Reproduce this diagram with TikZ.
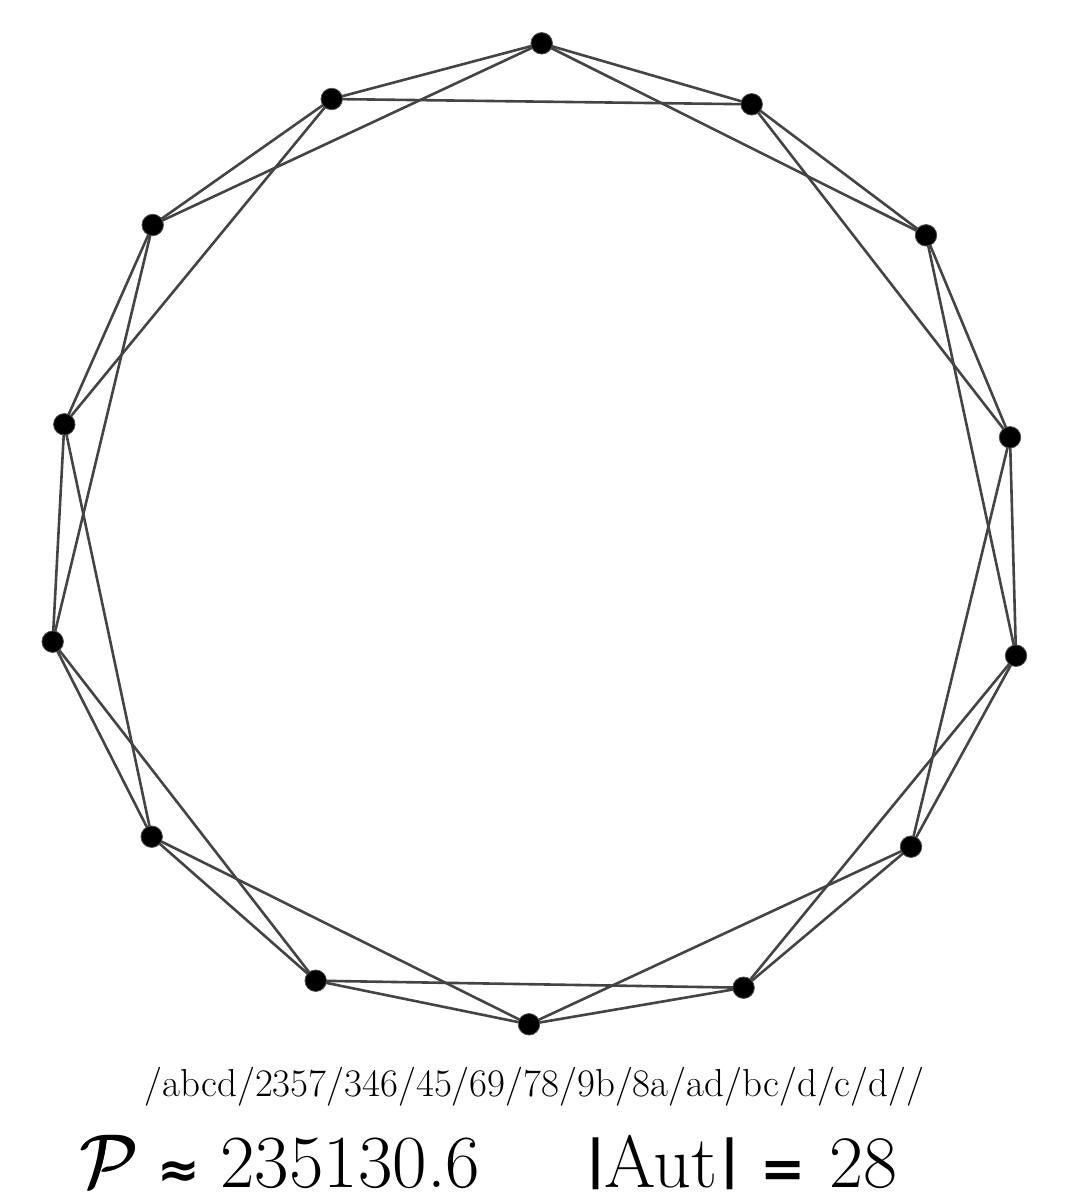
\RequirePackage{fix-cm}
\documentclass[tikz,border=0pt]{standalone}
\usepackage{fontspec}
\usepackage{graphicx}
\newfontfamily\dvb{DejaVu Sans Bold}
\usetikzlibrary{backgrounds}
\definecolor{edgecol}{RGB}{68,68,68}
\definecolor{rimcol}{RGB}{80,80,80}
\newcommand{\heavyP}{\makebox[0pt][l]{$\mathcal{P}$}\hspace{1.3pt}\makebox[0pt][l]{$\mathcal{P}$}\raisebox{0.6pt}{$\mathcal{P}$}}
\tikzset{
  vtx/.style={circle, fill=black, draw=rimcol, line width=0.8pt, minimum size=21.5pt, inner sep=0pt},
  edge/.style={draw=edgecol, line width=2.6pt},
  txt/.style={inner sep=0pt, text=black}
}
\begin{document}
\begin{tikzpicture}[x=1pt,y=-1pt]
\useasboundingbox (0,0) rectangle (1067,1200);
\node[vtx] (v1) at (541.7,43.3) {};
\node[vtx] (v2) at (751.7,104.3) {};
\node[vtx] (v3) at (926,235.3) {};
\node[vtx] (v4) at (1010,437.3) {};
\node[vtx] (v5) at (1016,655.7) {};
\node[vtx] (v6) at (911,846.7) {};
\node[vtx] (v7) at (743.6,987.7) {};
\node[vtx] (v8) at (529,1024.3) {};
\node[vtx] (v9) at (315.7,980.7) {};
\node[vtx] (v10) at (151.7,836.7) {};
\node[vtx] (v11) at (52.7,641.7) {};
\node[vtx] (v12) at (64.3,424.3) {};
\node[vtx] (v13) at (152.7,225) {};
\node[vtx] (v14) at (331.7,99) {};
\begin{scope}[on background layer]
\foreach \a/\b in {1/2,2/3,3/4,4/5,5/6,6/7,7/8,8/9,9/10,10/11,11/12,12/13,13/14,14/1,
                   1/3,2/4,3/5,4/6,5/7,6/8,7/9,8/10,9/11,10/12,11/13,12/14,13/1,14/2}
  \draw[edge] (v\a.center) -- (v\b.center);
\end{scope}
\node[txt, anchor=base, font=\fontsize{39}{45}\selectfont] (code) at (534.5,1096.7)
  {/abcd/2357/346/45/69/78/9b/8a/ad/bc/d/c/d//};
\node[txt, anchor=base west, font=\fontsize{75}{84}\selectfont] (perm) at (79,1187)
  {\makebox[78.7pt][l]{\heavyP}\makebox[62.6pt][l]{\fontsize{51}{60}\dvb ≈}235130.6};
\node[txt, anchor=base west, font=\fontsize{74}{84}\selectfont] (aut) at (586,1187)
  {\makebox[18pt][l]{\raisebox{10pt}{\fontsize{52}{60}\dvb |}}\makebox[116pt][l]{Aut}\makebox[40pt][l]{\raisebox{10pt}{\fontsize{52}{60}\dvb |}}\makebox[69pt][l]{\fontsize{54}{60}\dvb =}28};
\end{tikzpicture}
\end{document}
